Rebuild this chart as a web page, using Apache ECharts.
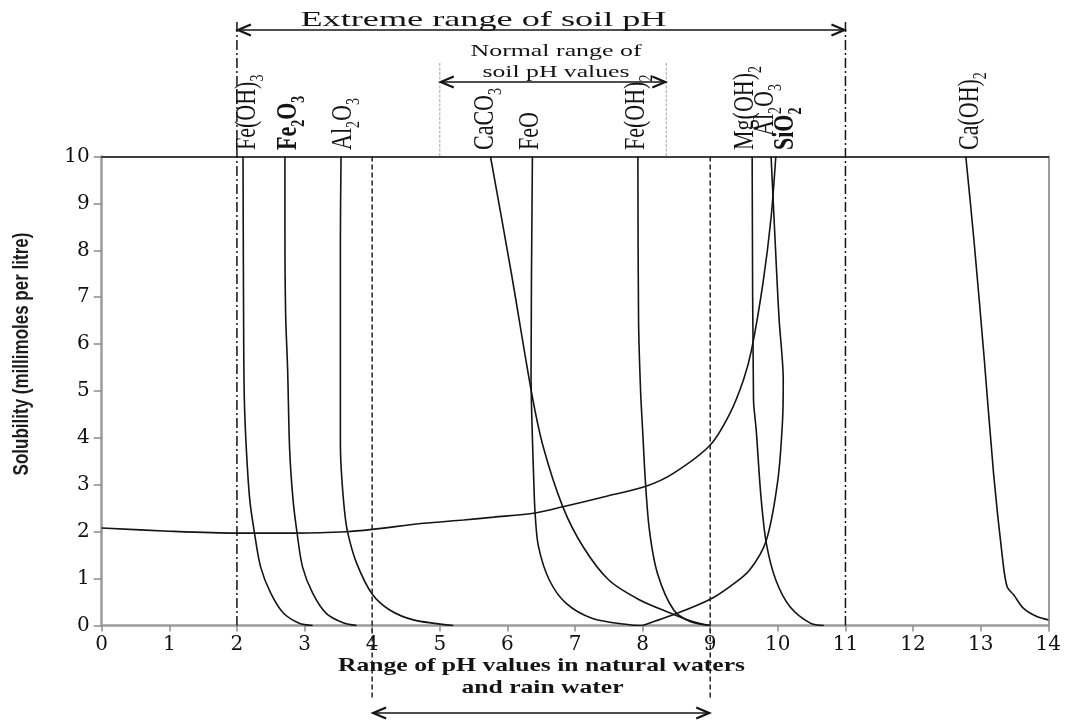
<!DOCTYPE html>
<html>
<head>
<meta charset="utf-8">
<script src="https://cdn.jsdelivr.net/npm/echarts@6/dist/echarts.min.js"></script>
<style>
  html, body { margin: 0; padding: 0; background: #ffffff; }
  #chart { width: 1073px; height: 722px; }
</style>
</head>
<body>
<div id="chart"></div>
<script>
// Solubility of common soil minerals against pH (0-14), millimoles per litre (0-10)

// Axis ticks
const phTicks = [0, 1, 2, 3, 4, 5, 6, 7, 8, 9, 10, 11, 12, 13, 14];
const solubilityTicks = [0, 1, 2, 3, 4, 5, 6, 7, 8, 9, 10];

// Curves: [pH, solubility]
const feOH3 = [[2.09, 10], [2.10, 6.1], [2.11, 4.8], [2.14, 3.74], [2.19, 2.68], [2.26, 1.97], [2.35, 1.25], [2.5, 0.69], [2.69, 0.26], [2.92, 0.05], [3.12, 0]];
const fe2O3 = [[2.71, 10], [2.71, 8.5], [2.72, 6.66], [2.75, 5.45], [2.78, 3.74], [2.83, 2.68], [2.89, 1.97], [2.97, 1.25], [3.12, 0.69], [3.32, 0.26], [3.57, 0.06], [3.77, 0]];
const al2O3Acid = [[3.54, 10], [3.53, 8.2], [3.53, 4.0], [3.54, 3.4], [3.59, 2.46], [3.64, 1.97], [3.77, 1.33], [4.0, 0.67], [4.26, 0.33], [4.61, 0.12], [5.2, 0]];
const caCO3 = [[5.75, 10], [6.06, 7.5], [6.36, 4.95], [6.53, 3.81], [6.82, 2.53], [7.12, 1.68], [7.5, 0.97], [7.95, 0.55], [8.42, 0.26], [8.75, 0.08], [9.0, 0]];
const feO = [[6.37, 10], [6.35, 5.4], [6.36, 4.5], [6.39, 3.1], [6.41, 2.39], [6.46, 1.68], [6.62, 0.97], [6.87, 0.47], [7.26, 0.15], [7.83, 0.01], [8.0, 0]];
const feOH2 = [[7.93, 10], [7.94, 6.5], [7.97, 5.0], [8.0, 4.17], [8.04, 3.1], [8.1, 2.04], [8.22, 1.11], [8.46, 0.33], [8.71, 0.08], [9.0, 0]];
const mgOH2 = [[9.62, 10], [9.64, 4.82], [9.68, 4.17], [9.75, 2.75], [9.83, 1.75], [9.97, 0.97], [10.18, 0.4], [10.48, 0.05], [10.68, 0]];
const al2O3Alkaline = [[8.0, 0], [8.51, 0.26], [9.0, 0.56], [9.29, 0.83], [9.58, 1.18], [9.83, 1.82], [10.0, 3.1], [10.07, 4.38], [10.08, 5.23], [10.02, 6.5], [9.99, 7.3], [9.9, 10]];
const siO2 = [[0, 2.08], [1, 2.01], [2, 1.97], [2.88, 1.97], [3.62, 2.0], [4, 2.05], [4.76, 2.18], [5.35, 2.25], [5.8, 2.31], [6.41, 2.4], [6.82, 2.53], [7.45, 2.75], [8.05, 2.97], [8.46, 3.25], [9.0, 3.85], [9.29, 4.52], [9.49, 5.23], [9.61, 5.87], [9.78, 7.3], [9.9, 8.7], [9.97, 10]];
const caOH2 = [[12.78, 10], [12.9, 8.22], [13.05, 5.73], [13.19, 3.25], [13.32, 1.47], [13.39, 0.83], [13.49, 0.65], [13.63, 0.37], [13.83, 0.19], [14.0, 0.12]];

// pH ranges marked on the chart
const extremeSoilRange = [2, 11];
const normalSoilRange = [5, 8.35];
const naturalWaterRange = [4, 9];

const chart = echarts.init(document.getElementById('chart'), null, { renderer: 'canvas' });

const INK = '#141414';
const AXIS_GREY = '#9c9c9c';
const SERIF = '"Liberation Serif", "Times New Roman", serif';
const TICK_FONT = '"DejaVu Serif", "Liberation Serif", serif';

function curve(name, data) {
  return {
    name: name,
    type: 'line',
    data: data,
    smooth: 0.3,
    symbol: 'none',
    showSymbol: false,
    silent: true,
    z: 3,
    lineStyle: { color: INK, width: 1.6 }
  };
}

const option = {
  animation: false,
  backgroundColor: '#ffffff',
  grid: { left: 101.7, right: 24.7, top: 156.5, bottom: 96.5, containLabel: false },
  xAxis: [
    {
      type: 'value',
      position: 'bottom',
      min: phTicks[0],
      max: phTicks[phTicks.length - 1],
      interval: phTicks[1] - phTicks[0],
      axisLine: { show: true, onZero: false, lineStyle: { color: AXIS_GREY, width: 2.5 } },
      axisTick: { show: true, inside: false, length: 6, lineStyle: { color: '#8c8c8c', width: 1.5 } },
      axisLabel: { fontFamily: TICK_FONT, fontSize: 20, color: '#111', margin: 9 },
      splitLine: { show: false }
    },
    {
      type: 'value',
      position: 'top',
      min: phTicks[0],
      max: phTicks[phTicks.length - 1],
      axisLine: { show: true, onZero: false, lineStyle: { color: '#000', width: 1.5 } },
      axisTick: { show: false },
      axisLabel: { show: false },
      splitLine: { show: false }
    }
  ],
  yAxis: [
    {
      type: 'value',
      position: 'left',
      min: solubilityTicks[0],
      max: solubilityTicks[solubilityTicks.length - 1],
      interval: solubilityTicks[1] - solubilityTicks[0],
      axisLine: { show: true, onZero: false, lineStyle: { color: AXIS_GREY, width: 2.5 } },
      axisTick: { show: true, inside: false, length: 8, lineStyle: { color: '#8c8c8c', width: 1.5 } },
      axisLabel: { fontFamily: TICK_FONT, fontSize: 20, color: '#111', margin: 12 },
      splitLine: { show: false }
    },
    {
      type: 'value',
      position: 'right',
      min: solubilityTicks[0],
      max: solubilityTicks[solubilityTicks.length - 1],
      axisLine: { show: true, onZero: false, lineStyle: { color: AXIS_GREY, width: 2 } },
      axisTick: { show: false },
      axisLabel: { show: false },
      splitLine: { show: false }
    }
  ],
  series: [
    curve('Fe(OH)3', feOH3),
    curve('Fe2O3', fe2O3),
    curve('Al2O3 (acid side)', al2O3Acid),
    curve('CaCO3', caCO3),
    curve('FeO', feO),
    curve('Fe(OH)2', feOH2),
    curve('Mg(OH)2', mgOH2),
    curve('Al2O3 (alkaline side)', al2O3Alkaline),
    curve('SiO2', siO2),
    curve('Ca(OH)2', caOH2)
  ]
};

chart.setOption(option);

// ---- annotations placed from the axis scale ----
const xPx = v => chart.convertToPixel({ xAxisIndex: 0 }, v);
const yPx = v => chart.convertToPixel({ yAxisIndex: 0 }, v);
const plotTop = yPx(solubilityTicks[solubilityTicks.length - 1]);
const plotBase = yPx(solubilityTicks[0]);

const measureCtx = document.createElement('canvas').getContext('2d');
function textWidth(text, size, weight, family) {
  measureCtx.font = (weight || 'normal') + ' ' + size + 'px ' + family;
  return measureCtx.measureText(text).width;
}

function vline(x, y1, y2, stroke, width, dash) {
  return {
    type: 'line', silent: true, z: 5,
    shape: { x1: x, y1: y1, x2: x, y2: y2 },
    style: { stroke: stroke, lineWidth: width, lineDash: dash || null }
  };
}

function doubleArrow(x1, x2, y) {
  const L = 14, H = 5.5;
  return [
    { type: 'line', silent: true, z: 6, shape: { x1: x1 + 1, y1: y, x2: x2 - 1, y2: y }, style: { stroke: INK, lineWidth: 1.6 } },
    { type: 'polyline', silent: true, z: 6, shape: { points: [[x1 + L, y - H], [x1 + 1, y], [x1 + L, y + H]] }, style: { stroke: INK, lineWidth: 2.2, fill: null } },
    { type: 'polyline', silent: true, z: 6, shape: { points: [[x2 - L, y - H], [x2 - 1, y], [x2 - L, y + H]] }, style: { stroke: INK, lineWidth: 2.2, fill: null } }
  ];
}

function wideText(text, cx, cy, targetWidth, size, weight) {
  const w = textWidth(text, size, weight, SERIF);
  return {
    type: 'text', silent: true, z: 7,
    x: cx, y: cy,
    scaleX: targetWidth / w,
    style: {
      text: text, fontFamily: SERIF, fontSize: size, fontWeight: weight || 'normal',
      fill: INK, align: 'center', verticalAlign: 'middle',
      textAlign: 'center', textVerticalAlign: 'middle'
    }
  };
}

// rotated formula labels, subscripts as rich text
const formulaRich = {
  n: { fontFamily: SERIF, fontSize: 22, lineHeight: 26, verticalAlign: 'top', fill: INK },
  s: { fontFamily: SERIF, fontSize: 14, lineHeight: 26, verticalAlign: 'bottom', fill: INK },
  b: { fontFamily: SERIF, fontSize: 22, fontWeight: 'bold', lineHeight: 26, verticalAlign: 'top', fill: INK },
  bs: { fontFamily: SERIF, fontSize: 14, fontWeight: 'bold', lineHeight: 26, verticalAlign: 'bottom', fill: INK }
};
function formula(parts, x, yBottom) {
  return {
    type: 'text', silent: true, z: 7,
    x: x, y: yBottom,
    rotation: Math.PI / 2,
    scaleY: 1.35,
    style: {
      text: parts.map(p => '{' + p[1] + '|' + p[0] + '}').join(''),
      rich: formulaRich,
      align: 'left', verticalAlign: 'middle',
      textAlign: 'left', textVerticalAlign: 'middle'
    }
  };
}

const graphics = [];

// extreme soil pH range: dash-dot lines and arrow
extremeSoilRange.forEach(v => graphics.push(vline(xPx(v), 22, plotBase, INK, 1.5, [10, 3, 2, 3])));
graphics.push(...doubleArrow(xPx(extremeSoilRange[0]), xPx(extremeSoilRange[1]), 30));
graphics.push(wideText('Extreme range of soil pH', 483.5, 20, 366, 21, 'normal'));

// normal soil pH range: light guides and arrow
normalSoilRange.forEach(v => graphics.push(vline(xPx(v), 63, plotTop, '#b4b4b4', 1.2, [3, 1.5])));
graphics.push(...doubleArrow(xPx(normalSoilRange[0]), xPx(normalSoilRange[1]), 82));
graphics.push(wideText('Normal range of', 556, 52, 171, 17, 'normal'));
graphics.push(wideText('soil pH values', 556, 73, 147, 17, 'normal'));

// natural water pH range: dashed lines and arrow below the axis
naturalWaterRange.forEach(v => graphics.push(vline(xPx(v), plotTop, 700, '#222', 1.5, [5, 3])));
graphics.push(...doubleArrow(xPx(naturalWaterRange[0]), xPx(naturalWaterRange[1]), 713));
graphics.push(wideText('Range of pH values in natural waters', 541.5, 666.5, 407, 19, 'bold'));
graphics.push(wideText('and rain water', 542.5, 688.5, 162, 19, 'bold'));

// y axis title
graphics.push({
  type: 'text', silent: true, z: 7,
  x: 22, y: 354,
  rotation: Math.PI / 2,
  scaleY: 1.25,
  style: {
    text: 'Solubility (millimoles per litre)',
    fontFamily: '"Liberation Sans", Arial, sans-serif', fontSize: 17, fontWeight: 'bold',
    fill: '#1c1c1c', align: 'center', verticalAlign: 'middle',
    textAlign: 'center', textVerticalAlign: 'middle'
  }
});

// formula labels above the curves
graphics.push(formula([['Fe(OH)', 'n'], ['3', 's']], 250, 150));
graphics.push(formula([['Fe', 'b'], ['2', 'bs'], ['O', 'b'], ['3', 'bs']], 291, 150));
graphics.push(formula([['Al', 'n'], ['2', 's'], ['O', 'n'], ['3', 's']], 346, 150));
graphics.push(formula([['CaCO', 'n'], ['3', 's']], 488, 150));
graphics.push(formula([['FeO', 'n']], 533, 150));
graphics.push(formula([['Fe(OH)', 'n'], ['2', 's']], 639, 150));
graphics.push(formula([['Mg(OH)', 'n'], ['2', 's']], 748, 150));
graphics.push(formula([['Al', 'n'], ['2', 's'], ['O', 'n'], ['3', 's']], 768, 136));
graphics.push(formula([['SiO', 'b'], ['2', 'bs']], 788, 150));
graphics.push(formula([['Ca(OH)', 'n'], ['2', 's']], 973, 150));

chart.setOption({ graphic: { elements: graphics } });
</script>
</body>
</html>
